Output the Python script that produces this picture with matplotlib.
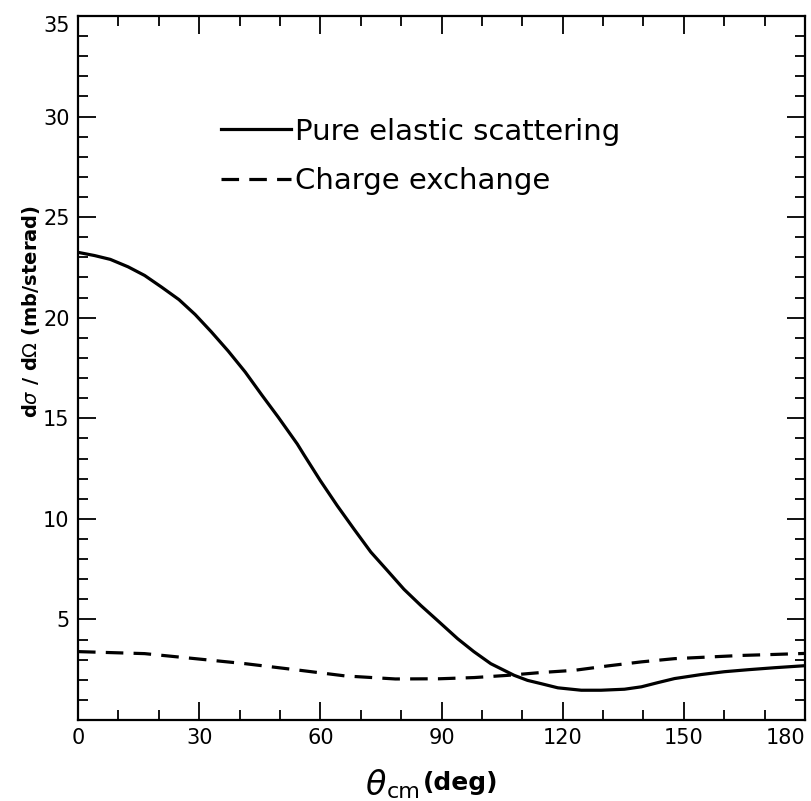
import matplotlib
matplotlib.use('Agg')
import matplotlib.pyplot as plt
import numpy as np

# pure elastic scattering (solid)
theta_el = [0, 4.1, 8, 12.4, 16.5, 20.7, 25, 29, 33, 37.2, 41.4, 45.5, 49.6,
            54.3, 55.9, 60, 64.2, 68.3, 72.5, 76.6, 80.7, 84.9, 89, 94, 98,
            102.2, 108, 111.3, 114.6, 118.8, 124.6, 129.5, 135.3, 139.5,
            143.6, 147.7, 154.3, 160, 165.9, 172.5, 180]
xs_el = [23.25, 23.09, 22.9, 22.53, 22.1, 21.52, 20.9, 20.16, 19.3, 18.34,
         17.3, 16.16, 15.05, 13.72, 13.2, 11.9, 10.65, 9.5, 8.35, 7.43, 6.5,
         5.69, 4.95, 4.04, 3.4, 2.8, 2.22, 1.97, 1.81, 1.6, 1.48, 1.48, 1.53,
         1.65, 1.86, 2.06, 2.26, 2.4, 2.5, 2.6, 2.7]

# charge exchange (dashed)
theta_ce = [0, 16.5, 29, 41.4, 53.8, 66.2, 78.6, 89.5, 98.1, 106.4, 114.6,
            122.9, 131.2, 139.5, 147.7, 156, 164.3, 172.5, 180]
xs_ce = [3.4, 3.3, 3.05, 2.8, 2.5, 2.19, 2.04, 2.05, 2.11, 2.22, 2.36,
         2.47, 2.69, 2.89, 3.05, 3.13, 3.21, 3.26, 3.31]

xticks = [0, 30, 60, 90, 120, 150, 180]
yticks = [5, 10, 15, 20, 25, 30, 35]

plt.rcParams['font.family'] = 'DejaVu Sans'

fig = plt.figure(figsize=(8.12, 8.01), dpi=100)
ax = fig.add_axes([78/812, 1 - 720/801, 727/812, 704/801])

ax.plot(theta_el, xs_el, color='black', lw=2.3, label='Pure elastic scattering')
ax.plot(theta_ce, xs_ce, color='black', lw=2.3, dashes=(5.5, 3.2),
        label='Charge exchange')

ax.set_xlim(0, 180)
ax.set_ylim(0, 35)
ax.set_xticks(xticks)
ax.set_xticks(np.arange(0, 181, 10), minor=True)
ax.set_yticks(yticks)
ax.set_yticks(np.arange(0, 36, 1), minor=True)
ax.set_xticklabels([str(v) for v in xticks])
ax.set_yticklabels([str(v) for v in yticks])

ax.tick_params(which='both', direction='in', top=True, right=True,
               colors='black', width=1.3)
ax.tick_params(which='major', length=13, labelsize=15, pad=6)
ax.tick_params(which='minor', length=7)
for s in ax.spines.values():
    s.set_linewidth(1.6)

# end labels pulled inside the frame as in the original
ax.get_xticklabels()[-1].set_ha('right')
ax.get_yticklabels()[-1].set_va('top')

leg = ax.legend(loc='upper left', bbox_to_anchor=(0.161, 0.893), frameon=False,
                fontsize=21, handlelength=2.4, handletextpad=0.12,
                labelspacing=0.75)

ax.set_ylabel(r'd$\sigma$ / d$\Omega$ (mb/sterad)', fontsize=14,
              fontweight='bold')
ax.yaxis.set_label_coords(-0.05, 0.58)

fig.text(365/812, 1 - 795/801, r'$\theta$', fontsize=24, va='baseline')
fig.text(387/812, 1 - 798/801, 'cm', fontsize=16, va='baseline')
fig.text(423/812, 1 - 790/801, '(deg)', fontsize=18, fontweight='bold',
         va='baseline')

plt.savefig('out.png', dpi=100)
